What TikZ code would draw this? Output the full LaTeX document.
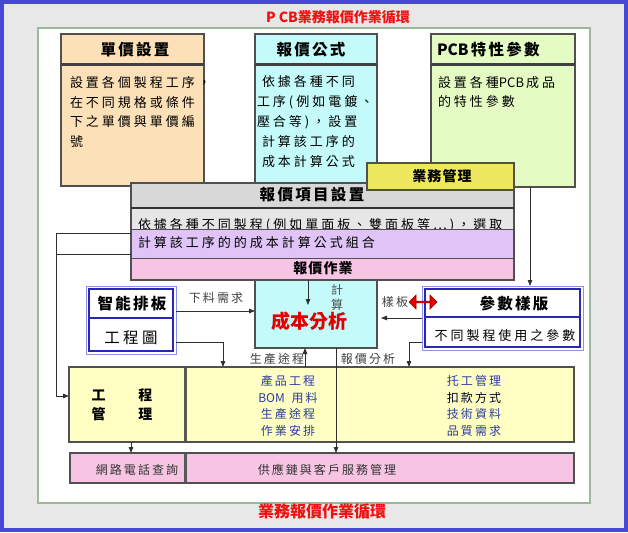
\documentclass[tikz,border=0pt]{standalone}
\usepackage{fontspec}
\setmainfont{Noto Sans CJK TC}
\usetikzlibrary{arrows.meta,shapes.arrows}
\definecolor{bg}{HTML}{E8E8E8}
\definecolor{frameblue}{HTML}{4848D8}
\definecolor{panelline}{HTML}{9CB89C}
\definecolor{peach}{HTML}{FCE0B8}
\definecolor{cyanbox}{HTML}{C4FAFA}
\definecolor{greenbox}{HTML}{E4FCC4}
\definecolor{ywbox}{HTML}{EEE860}
\definecolor{greyhead}{HTML}{D8D8D8}
\definecolor{greyband}{HTML}{E6E6E6}
\definecolor{purpleband}{HTML}{E0C4F8}
\definecolor{pinkband}{HTML}{F8C4E4}
\definecolor{lightyellow}{HTML}{FFFFC4}
\definecolor{boxline}{HTML}{505050}
\definecolor{dblue}{HTML}{2828B4}
\definecolor{lblue}{HTML}{9090EC}
\definecolor{txtblue}{HTML}{2C3CA0}
\definecolor{redtxt}{HTML}{F01010}
\definecolor{conc}{HTML}{303030}
\definecolor{lblc}{HTML}{404040}
\definecolor{darkred}{HTML}{900000}
\newcommand\fB{\fontsize{15.5}{18}\selectfont\bfseries\addfontfeature{LetterSpace=15}}
\newcommand\fM{\fontsize{14}{16}\selectfont\bfseries\addfontfeature{LetterSpace=8}}
\newcommand\fb{\fontsize{13}{19.8}\selectfont\addfontfeature{LetterSpace=23}}
\newcommand\fs{\fontsize{12}{16.5}\selectfont\addfontfeature{LetterSpace=17}}
\newcommand\tight[1]{{\addfontfeature{LetterSpace=0}#1}\hspace{2pt}}
\begin{document}
\begin{tikzpicture}[x=1pt,y=-1pt,
  every node/.style={inner sep=0pt,outer sep=0pt},
  rbox/.style={draw=boxline,line width=1.1pt,anchor=north west},
  hdline/.style={draw=black!75,line width=3pt},
  divl/.style={draw=black!65,line width=3pt},
  con/.style={draw=conc,line width=0.8pt},
  arr/.style={con,-{Triangle[length=6pt,width=4.5pt]}},
  lbl/.style={font=\fs,text=lblc},
  blu/.style={font=\fs,text=txtblue}]
\useasboundingbox (0,0) rectangle (628,532);
\fill[bg] (0,0) rectangle (628,532);
\draw[frameblue,line width=4pt] (2,2) rectangle (626,529.5);
\node[draw=panelline,fill=white,line width=1.5pt,anchor=north west,minimum width=552pt,minimum height=475pt] (panel) at (38,28) {};
\node[font=\fontsize{14}{14}\selectfont\bfseries,text=redtxt] (ttop) at (338,17) {P CB業務報價作業循環};
\node[font=\fontsize{16}{16}\selectfont\bfseries,text=redtxt] (tbot) at (322,511) {業務報價作業循環};
% top boxes
\node[rbox,fill=peach,minimum width=143pt,minimum height=152pt] (djsz) at (61,34) {};
\draw[hdline] (61,65) -- (204,65);
\node[font=\fB] (djszt) at (135,50) {單價設置};
\node[font=\fb,anchor=west,align=left] (djszb) at (70,112) {設置各個製程工序，\\在不同規格或條件\\下之單價與單價編\\號};
\node[rbox,fill=cyanbox,minimum width=122pt,minimum height=314pt] (bjgs) at (255,34) {};
\draw[hdline] (255,65) -- (377,65);
\node[font=\fB] (bjgst) at (311,50) {報價公式};
\node[font=\fb,anchor=west,align=left] (bjgsb) at (257,121.5) {\hspace{5pt}依據各種不同\\工序(例如電鍍、\\壓合等)，設置\\\hspace{5pt}計算該工序的\\\hspace{5pt}成本計算公式};
\node[rbox,fill=greenbox,minimum width=144pt,minimum height=153pt] (pcb) at (431,34) {};
\draw[hdline] (431,65) -- (575,65);
\node[font=\fB,anchor=west] (pcbt) at (437,50) {\tight{PCB}特性參數};
\node[font=\fb,anchor=west,align=left] (pcbb) at (438,92) {設置各種\tight{PCB}成品\\的特性參數};
% quotation item group
\node[fill=greyhead,anchor=north west,minimum width=383pt,minimum height=24pt] (xmhead) at (131,183) {};
\node[font=\fB] (xmheadt) at (312,195) {報價項目設置};
\node[fill=greyband,anchor=north west,minimum width=383pt,minimum height=22pt] (xmband) at (131,207) {};
\node[font=\fb,anchor=west] (xmbandt) at (138,225.5) {依據各種不同製程(例如單面板、雙面板等…)，選取};
\node[fill=purpleband,anchor=north west,minimum width=383pt,minimum height=29pt] (xmpurple) at (131,229) {};
\node[font=\fb,anchor=west] (xmpurplet) at (138,243) {計算該工序的的成本計算公式組合};
\node[fill=pinkband,anchor=north west,minimum width=383pt,minimum height=22pt] (xmpink) at (131,258) {};
\node[font=\fM] (xmpinkt) at (323,268.5) {報價作業};
\draw[boxline,line width=1.1pt] (131,183) rectangle (514,280);
\draw[black!80,line width=2.2pt] (131,208) -- (514,208);
\draw[boxline,line width=0.9pt] (131,229) -- (514,229);
\draw[boxline,line width=0.9pt] (131,258) -- (514,258);
\node[rbox,fill=ywbox,minimum width=147pt,minimum height=27pt] (ywgl) at (367,163) {};
\node[font=\fM] (ywglt) at (442,176.5) {業務管理};
% left bracket lines
\draw[con] (xmhead.west |- 0,233) -- (56,233);
\draw[con] (xmhead.west |- 0,254) -- (56,254);
% smart layout box
\node[draw=lblue,fill=white,line width=1pt,anchor=north west,minimum width=90pt,minimum height=68pt] (znpb) at (86,286) {};
\draw[dblue,line width=2.5pt] (89,289) rectangle (173,351);
\draw[dblue,line width=1.5pt] (89,318) -- (173,318);
\node[font=\fB] (znpbt) at (132,303.5) {智能排板};
\node[font=\fontsize{15.5}{16}\selectfont\addfontfeature{LetterSpace=22}] (gctt) at (131,338) {工程圖};
% parameter template box
\node[draw=lblue,fill=white,line width=1pt,anchor=north west,minimum width=161pt,minimum height=64pt] (csyb) at (422,286) {};
\draw[dblue,line width=2.5pt] (425,289) rectangle (580,347);
\draw[dblue,line width=1.5pt] (425,317) -- (580,317);
\node[font=\fB] (csybt) at (514,304) {參數樣版};
\node[font=\fb] (csybb) at (505,336) {不同製程使用之參數};
\node[double arrow,fill=red!90!black,draw=darkred,line width=0.6pt,minimum width=14pt,minimum height=28pt,double arrow head extend=2pt,double arrow head indent=0pt] (dbl) at (423,302) {};
% cost analysis texts
\node[font=\fontsize{19}{20}\selectfont\bfseries,text=red!88!black] (cbfx) at (309,321) {成本分析};
\node[font=\fs,text=black!70] (ji) at (337,290) {計};
\node[font=\fs,text=black!70] (suan) at (337,305) {算};
% engineering management box
\node[rbox,fill=lightyellow,minimum width=505pt,minimum height=75pt] (gcgl) at (69,367) {};
\draw[divl] (185,368) -- (185,441);
\node[font=\fM] (gcgl1) at (122,395.5) {工\hspace{33pt}程};
\node[font=\fM] (gcgl2) at (122,414) {管\hspace{33pt}理};
\node[blu] (m1) at (288,381) {產品工程};
\node[blu] (m2) at (288,397.5) {\tight{BOM} 用料};
\node[blu] (m3) at (288,414) {生產途程};
\node[blu] (m4) at (288,430.5) {作業安排};
\node[blu] (r1) at (474,381) {托工管理};
\node[font=\fs,text=black!85!blue] (r2) at (474,397.5) {扣款方式};
\node[blu] (r3) at (474,414) {技術資料};
\node[blu] (r4) at (474,430.5) {品質需求};
% bottom pink box
\node[rbox,fill=pinkband,minimum width=504pt,minimum height=30pt] (pink) at (70,453) {};
\draw[divl] (185,454) -- (185,482);
\node[font=\fs,text=black!80] (p1) at (137,470) {網路電話查詢};
\node[font=\fs,text=black!80] (p2) at (327,470) {供應鏈與客戶服務管理};
% connectors
\draw[arr] (xmpink.south -| 308,0) -- (308,305);
\draw[arr] (znpb.east |- 0,311) -- (bjgs.west |- 0,311);
\node[lbl] (l1) at (216,298) {下料需求};
\draw[arr] (znpb.east |- 0,342) -| (gcgl.north -| 223,0);
\draw[arr] (csyb.west |- 0,318) -- (381,318);
\node[lbl] (l2) at (395,302) {樣板};
\draw[arr] (csyb.west |- 0,342) -| (gcgl.north -| 409,0);
\node[lbl] (l3) at (368,359) {報價分析};
\draw[arr] (gcgl.north -| 305,0) -- (bjgs.south -| 305,0);
\node[lbl] (l4) at (277,359) {生產途程};
\draw[arr] (bjgs.south -| 336,0) -- (pink.north -| 336,0);
\draw[arr] (gcgl.south -| 131,0) -- (pink.north -| 131,0);
\draw[arr] (pcb.south -| 530,0) -- (csyb.north -| 530,0);
\draw[arr] (56,233) |- (gcgl.west |- 0,396);
\end{tikzpicture}
\end{document}
